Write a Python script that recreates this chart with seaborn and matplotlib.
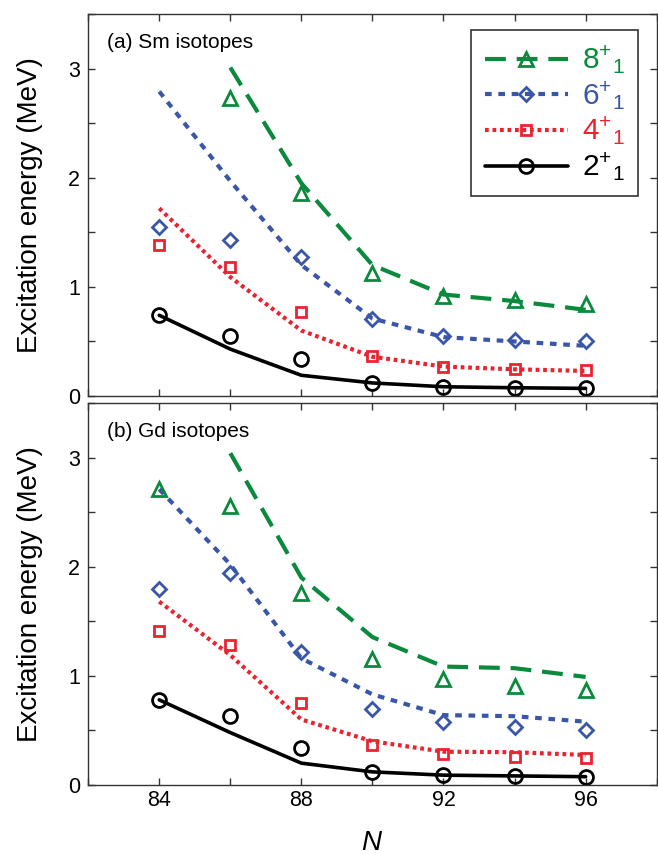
import numpy as np
import matplotlib
matplotlib.use("Agg")
import matplotlib.pyplot as plt
from matplotlib.lines import Line2D
from matplotlib.ticker import MultipleLocator
from matplotlib import font_manager
import seaborn as sns

sns.set_theme(style="white")
plt.rcParams['font.family'] = ['Liberation Sans', 'DejaVu Sans']
plt.rcParams['mathtext.fontset'] = 'custom'
plt.rcParams['mathtext.rm'] = 'Liberation Sans'
plt.rcParams['mathtext.it'] = 'Liberation Sans:italic'
plt.rcParams['text.color'] = 'black'
plt.rcParams['axes.labelcolor'] = 'black'
plt.rcParams['xtick.color'] = 'black'
plt.rcParams['ytick.color'] = 'black'

N = [84, 86, 88, 90, 92, 94, 96]
labels = ["8", "6", "4", "2"]

# Sm isotopes: theory (lines) and experiment (markers)
sm_th_8 = [np.nan, 3.01, 1.95, 1.20, 0.93, 0.87, 0.79]
sm_th_6 = [2.79, 1.97, 1.20, 0.71, 0.54, 0.50, 0.46]
sm_th_4 = [1.72, 1.09, 0.60, 0.36, 0.27, 0.245, 0.23]
sm_th_2 = [0.74, 0.43, 0.19, 0.12, 0.085, 0.076, 0.07]
sm_ex_8 = [np.nan, 2.73, 1.86, 1.13, 0.92, 0.88, 0.84]
sm_ex_6 = [1.55, 1.43, 1.27, 0.71, 0.55, 0.51, 0.50]
sm_ex_4 = [1.38, 1.18, 0.77, 0.37, 0.27, 0.25, 0.24]
sm_ex_2 = [0.74, 0.55, 0.34, 0.12, 0.08, 0.076, 0.07]

# Gd isotopes
gd_th_8 = [np.nan, 3.04, 1.90, 1.355, 1.085, 1.07, 0.99]
gd_th_6 = [2.71, 2.02, 1.16, 0.83, 0.64, 0.63, 0.58]
gd_th_4 = [1.68, 1.19, 0.60, 0.40, 0.305, 0.30, 0.275]
gd_th_2 = [0.78, 0.48, 0.20, 0.12, 0.09, 0.083, 0.076]
gd_ex_8 = [2.71, 2.56, 1.76, 1.15, 0.97, 0.91, 0.87]
gd_ex_6 = [1.80, 1.94, 1.22, 0.70, 0.58, 0.535, 0.505]
gd_ex_4 = [1.41, 1.28, 0.75, 0.37, 0.28, 0.26, 0.245]
gd_ex_2 = [0.78, 0.63, 0.34, 0.12, 0.09, 0.08, 0.075]

colors = {"8": "#0b8a3e", "6": "#3a56a8", "4": "#ea2330", "2": "#000000"}
markers = {"8": "^", "6": "D", "4": "s", "2": "o"}
msizes = {"8": 9.5, "6": 7, "4": 6.5, "2": 10}
dashes = {"8": (5, 2.6), "6": (1.6, 1.6), "4": (0.9, 0.9), "2": ()}
lws = {"8": 3.0, "6": 3.0, "4": 3.0, "2": 2.6}

names = {f.name for f in font_manager.fontManager.ttflist}
ylab_family = ['Liberation Sans Narrow'] if 'Liberation Sans Narrow' in names else ['Liberation Sans']

fig = plt.figure(figsize=(6.58, 8.55), dpi=100)
ax1 = fig.add_axes([0.134, 0.5368, 0.864, 0.4468])
ax2 = fig.add_axes([0.134, 0.0819, 0.864, 0.4468])

panels = [
    (ax1, {"8": sm_th_8, "6": sm_th_6, "4": sm_th_4, "2": sm_th_2},
     {"8": sm_ex_8, "6": sm_ex_6, "4": sm_ex_4, "2": sm_ex_2}, "(a) Sm isotopes"),
    (ax2, {"8": gd_th_8, "6": gd_th_6, "4": gd_th_4, "2": gd_th_2},
     {"8": gd_ex_8, "6": gd_ex_6, "4": gd_ex_4, "2": gd_ex_2}, "(b) Gd isotopes"),
]

for ax, th, ex, title in panels:
    for k in ["2", "4", "6", "8"]:
        sns.lineplot(x=N, y=th[k], ax=ax, color=colors[k], lw=lws[k])
        line = ax.lines[-1]
        if dashes[k]:
            line.set_dashes(dashes[k])
            line.set_dash_capstyle('butt')
        y = np.array(ex[k], dtype=float)
        ax.plot(N, y, linestyle='none', marker=markers[k], ms=msizes[k],
                mfc='none', mec=colors[k], mew=2.0)
    ax.set_xlim(82, 98)
    ax.set_ylim(0, 3.5)
    ax.xaxis.set_major_locator(MultipleLocator(4))
    ax.xaxis.set_minor_locator(MultipleLocator(2))
    ax.yaxis.set_major_locator(MultipleLocator(1))
    ax.yaxis.set_minor_locator(MultipleLocator(0.5))
    ax.tick_params(which='both', direction='in', top=True, right=True,
                   bottom=True, left=True, length=5, width=1, color='#333333',
                   labelsize=15.5, labelcolor='black')
    ax.tick_params(axis='y', pad=6)
    for s in ax.spines.values():
        s.set_color('#333333')
        s.set_linewidth(1.0)
    ax.set_ylabel("Excitation energy (MeV)", fontsize=20,
                  family=ylab_family, labelpad=18)
    ax.text(0.033, 0.95, title, transform=ax.transAxes, fontsize=15,
            va='top', ha='left')
    ax.grid(False)

ax1.tick_params(labelbottom=False)
ax2.set_xlabel("$N$", fontsize=20, labelpad=14)

handles = []
for k in labels:
    h = Line2D([0], [0], color=colors[k], lw=lws[k], marker=markers[k],
               ms=msizes[k], mfc='none', mec=colors[k], mew=2.0)
    if dashes[k]:
        h.set_dashes(dashes[k])
    handles.append(h)
leg = ax1.legend(handles, [rf"${k}^{{+}}{{}}_{{1}}$" for k in labels],
                 loc='upper right', bbox_to_anchor=(0.967, 0.958),
                 fontsize=21.5, handlelength=2.8, labelspacing=0.1,
                 borderpad=0.45, handletextpad=0.45, borderaxespad=0,
                 frameon=True, fancybox=False, edgecolor='black',
                 labelcolor=[colors[k] for k in labels])
leg.get_frame().set_linewidth(1.2)

fig.savefig("out.png", dpi=100)
